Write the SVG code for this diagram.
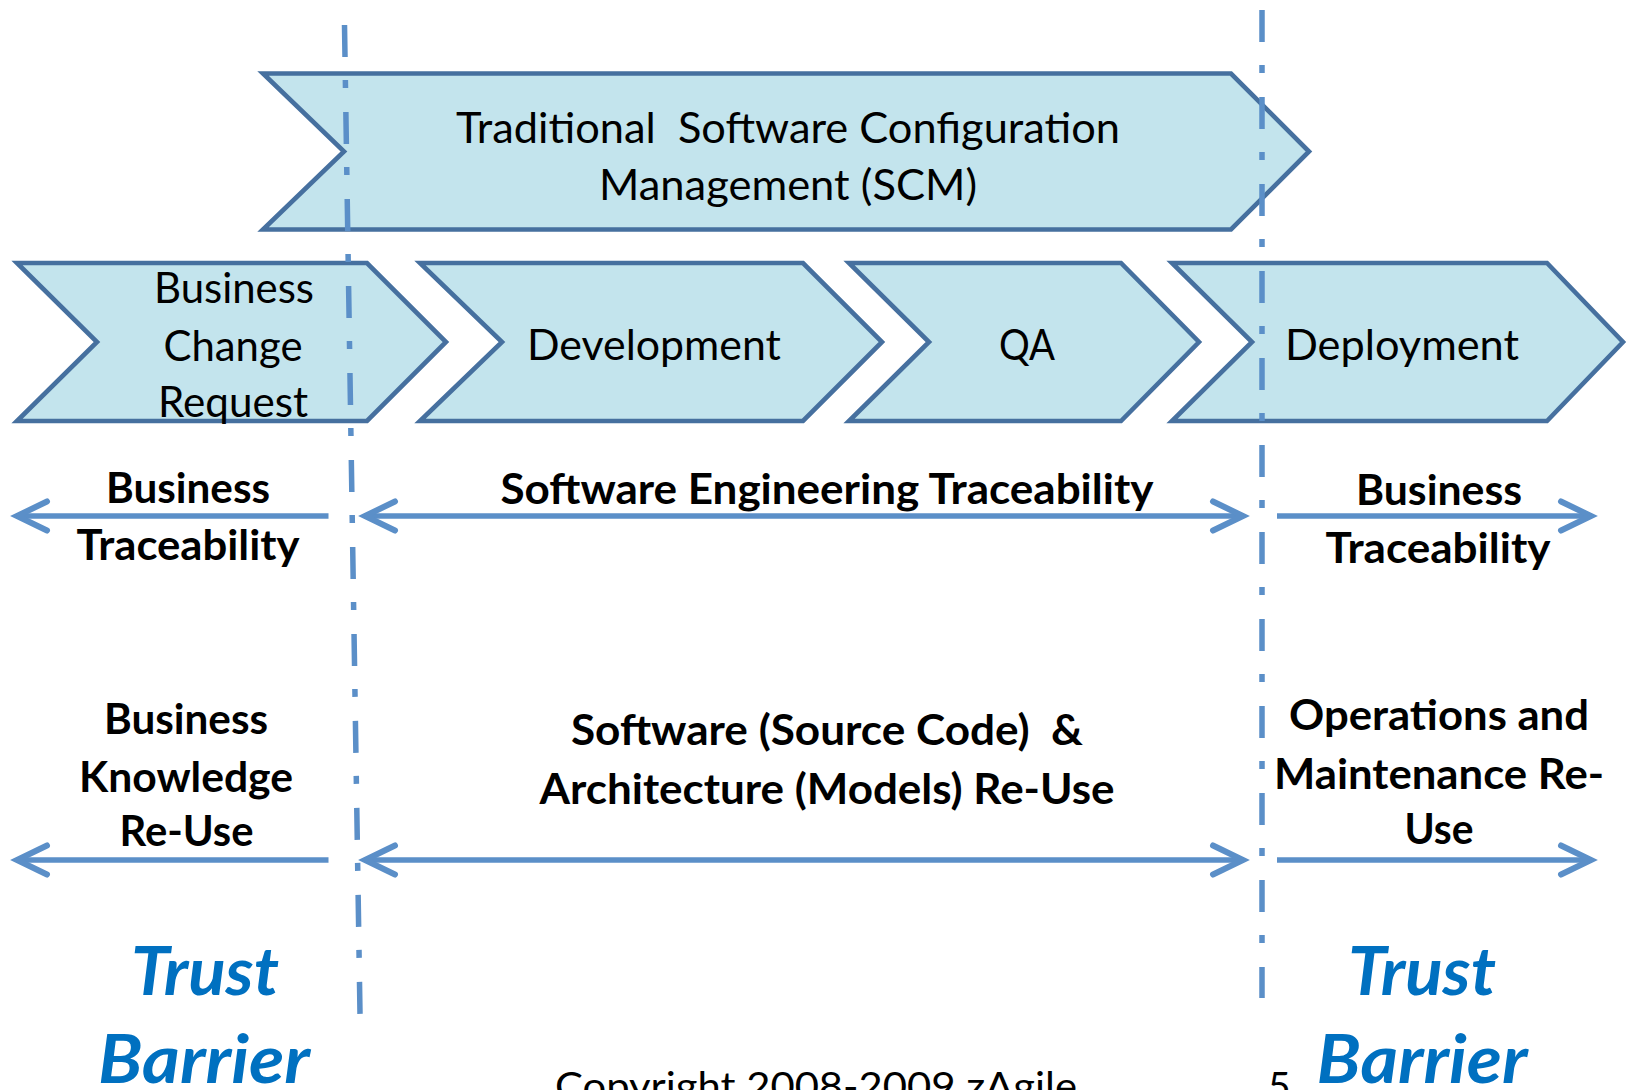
<svg xmlns="http://www.w3.org/2000/svg" width="1627" height="1090" viewBox="0 0 1627 1090">
<style>
.chev{fill:#c3e4ed;stroke:#46709f;stroke-width:4.6;stroke-linejoin:miter}
.reg{font-family:Lato,"Open Sans",sans-serif;font-size:42px;fill:#000;text-anchor:middle}
.bold{font-family:Lato,"Open Sans",sans-serif;font-size:41.5px;font-weight:bold;fill:#000;text-anchor:middle}
.trust{font-family:Lato,"Open Sans",sans-serif;font-size:67px;font-weight:bold;font-style:italic;fill:#0070c0;text-anchor:middle}
.copy{font-family:Lato,"Open Sans",sans-serif;font-size:39px;fill:#000}
.dash{fill:none;stroke:#5b8fc8;stroke-width:5.5;stroke-dasharray:32 23 8 24}
.arr{fill:none;stroke:#5b8fc8;stroke-width:5.5;stroke-linecap:butt}
.head{fill:none;stroke:#5b8fc8;stroke-width:6;stroke-linecap:round;stroke-linejoin:miter}
</style>
<rect width="1627" height="1090" fill="#fff"/>
<g id="scm">
<polygon class="chev" points="263,73.5 1231,73.5 1309,151.5 1231,229.5 263,229.5 344,151.5"/>
<text class="reg" x="788" y="143" style="white-space:pre" textLength="664" lengthAdjust="spacingAndGlyphs">Traditional  Software Configuration</text>
<text class="reg" x="788" y="200" textLength="378" lengthAdjust="spacingAndGlyphs">Management (SCM)</text>
</g>
<g id="bcr">
<polygon class="chev" points="17,263 367,263 446,342 367,421 17,421 97,342"/>
<text class="reg" x="234" y="303" textLength="160" lengthAdjust="spacingAndGlyphs">Business</text>
<text class="reg" x="233" y="361" textLength="139" lengthAdjust="spacingAndGlyphs">Change</text>
<text class="reg" x="233" y="417" textLength="150" lengthAdjust="spacingAndGlyphs">Request</text>
</g>
<g id="development">
<polygon class="chev" points="420,263 803,263 882,342 803,421 420,421 502,342"/>
<text class="reg" x="654" y="360" textLength="254" lengthAdjust="spacingAndGlyphs">Development</text>
</g>
<g id="qa">
<polygon class="chev" points="849,263 1121,263 1199,342 1121,421 849,421 929,342"/>
<text class="reg" x="1027" y="360" textLength="56" lengthAdjust="spacingAndGlyphs">QA</text>
</g>
<g id="deployment">
<polygon class="chev" points="1172,263 1547,263 1623,342 1547,421 1172,421 1252,342"/>
<text class="reg" x="1402" y="360" textLength="234" lengthAdjust="spacingAndGlyphs">Deployment</text>
</g>
<g id="connectors">
<line class="dash" x1="344.5" y1="25" x2="360" y2="1014"/>
<line class="dash" x1="1262" y1="10" x2="1262" y2="998"/>
<line class="arr" x1="328.5" y1="516" x2="17" y2="516"/>
<path class="head" d="M47,501.5 L17,516 L47,530.5"/>
<line class="arr" x1="365" y1="516" x2="1243" y2="516"/>
<path class="head" d="M395,501.5 L365,516 L395,530.5"/>
<path class="head" d="M1213,501.5 L1243,516 L1213,530.5"/>
<line class="arr" x1="1277" y1="516" x2="1591" y2="516"/>
<path class="head" d="M1561,501.5 L1591,516 L1561,530.5"/>
<line class="arr" x1="328.5" y1="860" x2="17" y2="860"/>
<path class="head" d="M47,845.5 L17,860 L47,874.5"/>
<line class="arr" x1="365" y1="860" x2="1243" y2="860"/>
<path class="head" d="M395,845.5 L365,860 L395,874.5"/>
<path class="head" d="M1213,845.5 L1243,860 L1213,874.5"/>
<line class="arr" x1="1277" y1="860" x2="1591" y2="860"/>
<path class="head" d="M1561,845.5 L1591,860 L1561,874.5"/>
</g>
<g id="label-business-traceability-left">
<text class="bold" x="188" y="502.5" textLength="164" lengthAdjust="spacingAndGlyphs">Business</text>
<text class="bold" x="188" y="559.5" textLength="223" lengthAdjust="spacingAndGlyphs">Traceability</text>
</g>
<g id="label-se-traceability">
<text class="bold" x="827" y="503.5" textLength="653" lengthAdjust="spacingAndGlyphs">Software Engineering Traceability</text>
</g>
<g id="label-business-traceability-right">
<text class="bold" x="1439" y="505" textLength="166" lengthAdjust="spacingAndGlyphs">Business</text>
<text class="bold" x="1438" y="563" textLength="225" lengthAdjust="spacingAndGlyphs">Traceability</text>
</g>
<g id="label-business-knowledge">
<text class="bold" x="186" y="733.5" textLength="164" lengthAdjust="spacingAndGlyphs">Business</text>
<text class="bold" x="186" y="791.5" textLength="214" lengthAdjust="spacingAndGlyphs">Knowledge</text>
<text class="bold" x="186.5" y="846" textLength="134" lengthAdjust="spacingAndGlyphs">Re-Use</text>
</g>
<g id="label-software-reuse">
<text class="bold" x="827" y="745" style="white-space:pre" textLength="512" lengthAdjust="spacingAndGlyphs">Software (Source Code)  &amp;</text>
<text class="bold" x="827" y="803.5" textLength="575" lengthAdjust="spacingAndGlyphs">Architecture (Models) Re-Use</text>
</g>
<g id="label-operations">
<text class="bold" x="1439" y="730" textLength="300" lengthAdjust="spacingAndGlyphs">Operations and</text>
<text class="bold" x="1439" y="788.5" textLength="330" lengthAdjust="spacingAndGlyphs">Maintenance Re-</text>
<text class="bold" x="1439" y="843.5" textLength="69" lengthAdjust="spacingAndGlyphs">Use</text>
</g>
<g id="trust-left">
<text class="trust" x="205" y="995" textLength="148" lengthAdjust="spacingAndGlyphs">Trust</text>
<text class="trust" x="204" y="1083" textLength="212" lengthAdjust="spacingAndGlyphs">Barrier</text>
</g>
<g id="trust-right">
<text class="trust" x="1422" y="995" textLength="148" lengthAdjust="spacingAndGlyphs">Trust</text>
<text class="trust" x="1422" y="1083" textLength="211" lengthAdjust="spacingAndGlyphs">Barrier</text>
</g>
<g id="footer">
<text class="copy" x="555" y="1100" textLength="522" lengthAdjust="spacingAndGlyphs">Copyright 2008-2009 zAgile</text>
<text class="copy" x="1268" y="1100">5</text>
</g>
</svg>
